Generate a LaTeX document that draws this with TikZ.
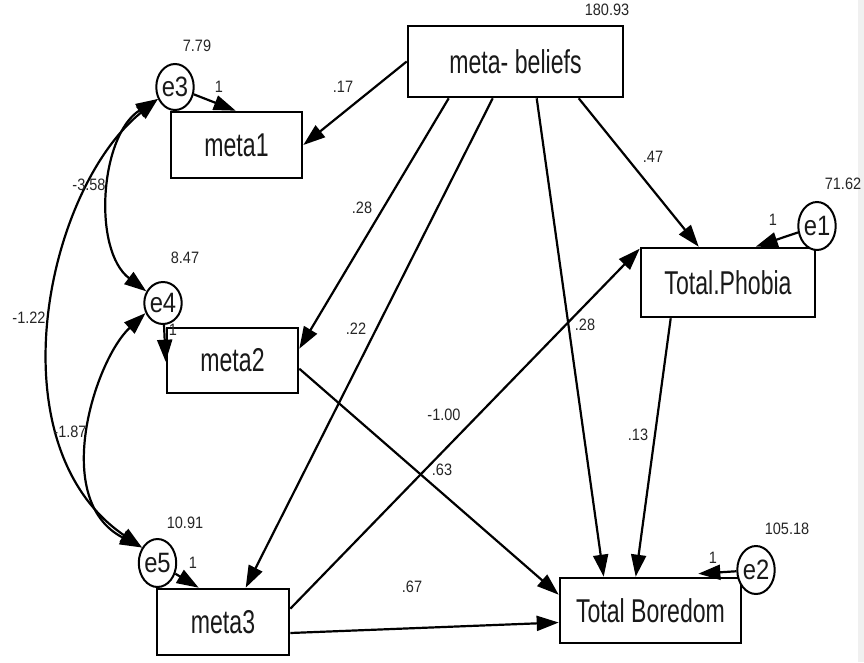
\documentclass[tikz,border=0pt]{standalone}
\usepackage{fontspec}
\setmainfont{Liberation Sans}
\newfontfamily\boxfont[FakeStretch=0.7]{Liberation Sans}
\newfontfamily\errfont[FakeStretch=0.85]{Liberation Sans}
\newfontfamily\numfont[FakeStretch=0.88]{Liberation Sans}
\usetikzlibrary{arrows.meta,shapes.geometric}
\begin{document}
\begin{tikzpicture}[x=1pt,y=-1pt,
  var/.style={draw,line width=2.6pt,inner sep=0pt,text=black!90,
    font=\boxfont\fontsize{33}{36}\selectfont},
  err/.style={draw,ellipse,line width=2pt,inner sep=0pt,fill=white,text=black!90,
    font=\errfont\fontsize{28}{30}\selectfont},
  arr/.style={line width=2.2pt,-{Triangle[length=22pt,width=15pt]}},
  cov/.style={line width=2.2pt,{Triangle[length=22pt,width=15pt]}-{Triangle[length=22pt,width=15pt]}},
  num/.style={font=\numfont\fontsize{16.5}{18}\selectfont,text=black!85,inner sep=0pt},
]
\useasboundingbox (0,0) rectangle (864,662);
\fill[white] (0,0) rectangle (864,662);
\fill[black!6] (858,0) rectangle (864,662);

% observed variables
\node[var,minimum width=215pt,minimum height=71pt] (mb) at (515.5,61.5) {meta- beliefs};
\node[var,minimum width=131pt,minimum height=66pt] (m1) at (236.5,145) {meta1};
\node[var,minimum width=131pt,minimum height=65pt] (m2) at (232.5,360.5) {meta2};
\node[var,minimum width=132pt,minimum height=66pt] (m3) at (223,622) {meta3};
\node[var,minimum width=174pt,minimum height=69pt] (tp) at (728,282.5) {Total.Phobia};
\node[var,minimum width=181pt,minimum height=65pt] (tb) at (650.5,610.5) {Total Boredom};

% error terms
\node[err,minimum width=36pt,minimum height=46pt] (e3) at (175,87) {e3};
\node[err,minimum width=37pt,minimum height=42pt] (e4) at (163,303) {e4};
\node[err,minimum width=35pt,minimum height=48pt] (e5) at (157.5,563) {e5};
\node[err,minimum width=37pt,minimum height=48pt] (e1) at (817,226) {e1};
\node[err,minimum width=34pt,minimum height=48pt] (e2) at (756,570) {e2};

% regression paths
\draw[arr] (mb.west) -- (m1.east);
\draw[arr] ([xshift=42pt]mb.south west) -- ([yshift=-22pt]m2.north east);
\draw[arr] ([xshift=86pt]mb.south west) -- ([xshift=90pt]m3.north west);
\draw[arr] ([xshift=130pt]mb.south west) -- ([xshift=45pt]tb.north west);
\draw[arr] ([xshift=172pt]mb.south west) -- ([xshift=59pt]tp.north west);
\draw[arr] ([yshift=-42pt]m2.north east) -- ([yshift=-18pt]tb.north west);
\draw[arr] ([yshift=-21pt]m3.north east) -- ([yshift=-2pt]tp.north west);
\draw[arr] ([yshift=-11pt]m3.east) -- ([yshift=-12pt]tb.west);
\draw[arr] ([xshift=31pt]tp.south west) -- ([xshift=77pt]tb.north west);

% error loadings
\draw[arr] (e1) -- ([xshift=116pt]tp.north west);
\draw[arr] (e2) -- ([xshift=-44pt,yshift=3pt]tb.north east);
\draw[arr] (e3) -- ([xshift=66pt]m1.north west);
\draw[arr] (e4) -- ([yshift=-35pt]m2.north west);
\draw[arr] (e5) -- ([xshift=43pt]m3.north west);

% covariances
\draw[cov] (e3.215) .. controls (100,135) and (92,250) .. (e4.145);
\draw[cov] (e3.215) .. controls (45,190) and (-7,446) .. (e5.135);
\draw[cov] (e4.210) .. controls (95,360) and (50,500) .. (e5.135);

% estimates
\node[num] (vmb) at (607,10) {180.93};
\node[num] (ve3) at (197,46) {7.79};
\node[num] (ve4) at (185,258) {8.47};
\node[num] (ve5) at (185,523) {10.91};
\node[num] (ve1) at (843,184) {71.62};
\node[num] (ve2) at (787,529) {105.18};
\node[num] (le3) at (219,87) {1};
\node[num] (le4) at (173,330) {1};
\node[num] (le5) at (193,563) {1};
\node[num] (le1) at (773,220) {1};
\node[num] (le2) at (713,558) {1};
\node[num] (p17) at (343,87) {.17};
\node[num] (p28a) at (362,208) {.28};
\node[num] (p22) at (356,329) {.22};
\node[num] (p28b) at (585,325) {.28};
\node[num] (p47) at (653,157) {.47};
\node[num] (p100) at (444,415) {-1.00};
\node[num] (p63) at (442,470) {.63};
\node[num] (p13) at (638,435) {.13};
\node[num] (p67) at (412,587) {.67};
\node[num] (c358) at (89,185) {-3.58};
\node[num] (c122) at (29,318) {-1.22};
\node[num] (c187) at (70,432) {-1.87};
\end{tikzpicture}
\end{document}
